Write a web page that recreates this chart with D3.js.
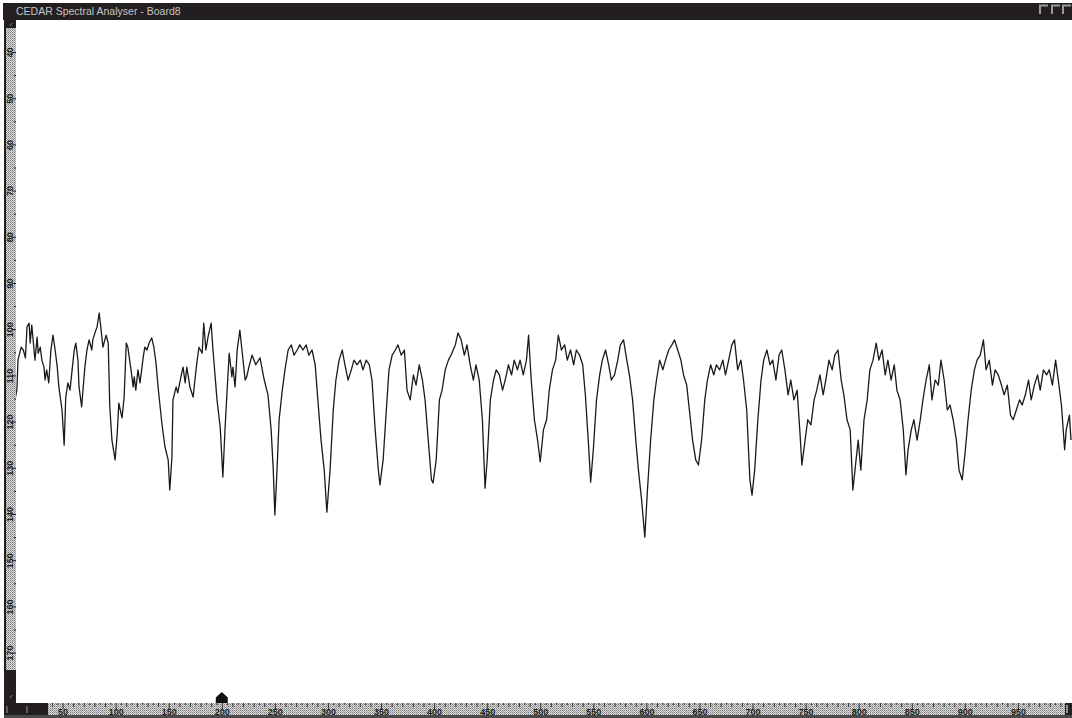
<!DOCTYPE html>
<html lang="en">
<head>
<meta charset="UTF-8">
<title>CEDAR Spectral Analyser - Board8</title>
<script src="https://d3js.org/d3.v7.min.js"></script>
<style>
  body { margin: 0; padding: 0; background: #fff; }
  svg { display: block; }
  text { font-family: "Liberation Sans", Arial, sans-serif; }
</style>
</head>
<body>
<svg id="chart"></svg>
<script>
// spectrum trace: frequency bin and level (inverted scale)
const freq = [5, 7, 8, 11, 13, 15, 16.5, 18.5, 19.5, 21, 22, 24, 26, 27, 29, 30.5, 32.5, 33.5, 35, 37,
  39, 41, 43, 45, 46.5, 49.5, 51.5, 53, 55, 57, 59, 61, 62.5, 64.5, 65.5, 68, 69, 71, 73, 75,
  77.5, 78.5, 80.5, 82.5, 84.5, 86, 88, 91, 93, 94.5, 96.5, 99.5, 101.5, 103, 106, 108, 110, 111.5, 114.5, 116.5,
  117.5, 119, 121, 123, 126, 127.5, 129.5, 131.5, 134, 136, 138, 140, 143.5, 146.5, 149.5, 151, 153, 154, 157, 158.5,
  161.5, 163.5, 165.5, 167, 170, 173, 175, 176.5, 178.5, 181.5, 183, 185, 187, 190, 191.5, 195.5, 198.5, 201, 203, 205,
  207, 209.5, 210.5, 212.5, 214.5, 217, 219, 222, 223.5, 225.5, 228.5, 232, 236, 240, 243.5, 246.5, 248.5, 250, 252, 254,
  257, 259.5, 262.5, 265.5, 268, 271, 273.5, 276.5, 279.5, 282, 285, 288, 290.5, 293.5, 296.5, 299, 302, 305, 307.5, 310.5,
  313.5, 316, 319, 322, 324.5, 327.5, 330.5, 333, 336, 339, 341.5, 344.5, 347.5, 349, 352, 355, 357.5, 360.5, 363.5, 366,
  369, 372, 374.5, 377.5, 380.5, 383, 386, 389, 391.5, 394.5, 397.5, 399, 402, 405, 407.5, 410.5, 413.5, 416, 420, 422.5,
  425.5, 428.5, 431, 434, 437, 439.5, 442.5, 445.5, 448, 450, 453, 456, 458.5, 461.5, 464.5, 467, 470, 473, 475.5, 478.5,
  481, 484, 487, 489, 491.5, 494.5, 497.5, 500, 503, 506, 508.5, 511.5, 514.5, 517, 520, 523, 525.5, 528.5, 531.5, 534,
  537, 540, 542.5, 545.5, 547.5, 550, 553, 556, 558.5, 561.5, 564.5, 567, 570, 573, 575.5, 578.5, 581.5, 584, 587, 590,
  592.5, 595.5, 598.5, 601, 604, 607, 609.5, 612.5, 615.5, 618, 621, 624, 626.5, 629.5, 632.5, 635, 638, 640.5, 643.5, 646.5,
  649, 652, 655, 657.5, 660.5, 663.5, 666, 669, 672, 674.5, 677.5, 680.5, 683, 686, 689, 691.5, 694.5, 697.5, 699.5, 702,
  705, 708, 710.5, 713.5, 716.5, 719, 722, 725, 727.5, 730.5, 733.5, 736, 739, 742, 744.5, 746.5, 749.5, 752, 755, 758,
  760.5, 763.5, 766.5, 769, 772, 775, 777.5, 780.5, 783.5, 786, 789, 792, 794.5, 796.5, 799.5, 802, 805, 808, 810.5, 813.5,
  816.5, 819, 822, 825, 827.5, 830.5, 833.5, 836, 839, 842, 844.5, 846.5, 849.5, 852, 855, 858, 860.5, 863.5, 866.5, 869,
  872, 875, 877.5, 880.5, 883.5, 886, 889, 892, 894.5, 897.5, 900.5, 903, 906, 909, 911.5, 914.5, 917.5, 920, 923, 926,
  928.5, 931.5, 934.5, 937, 940, 943, 945.5, 948.5, 951.5, 954, 957, 960, 962.5, 965.5, 968.5, 971, 974, 977, 979.5, 982.5,
  985.5, 988, 991, 994, 995.5, 998.5, 1000];

const level = [115.5, 113, 106.7, 103.9, 104.5, 106.2, 99.5, 98.7, 103, 99.1, 101.7, 106.7, 101.7, 105.2, 103.9, 106.7, 108.2, 111, 108.8, 111.6,
  104.5, 101.3, 104.5, 108.2, 112.5, 117.5, 125.1, 114.7, 111.6, 113.2, 108.8, 104.5, 103, 106.7, 112.5, 116.8, 113.8, 108.2, 104.5, 102.3,
  104.5, 102.3, 100.8, 99.5, 96.5, 99.5, 103.9, 101.3, 103, 116.8, 124, 128.3, 122.5, 116, 119.2, 114.7, 103, 103.9, 108.8, 112.5,
  110.3, 113.2, 108.8, 111.6, 106, 103.9, 104.5, 103, 101.9, 103.9, 107.3, 112.5, 120.3, 125.5, 128.3, 134.8, 127.7, 115.3, 112.5, 113.8,
  110.3, 108.2, 111.6, 108.2, 112.5, 114.7, 110.3, 107.3, 103.9, 105.2, 98.7, 104.5, 101.7, 98.7, 103.9, 115.3, 121.2, 132, 121.8, 113.2,
  105.2, 110.3, 108.2, 112.5, 104.5, 100.2, 104.5, 111, 110.3, 108.2, 105.6, 107.7, 106.2, 111, 114.2, 121.8, 130.5, 140.2, 130.5, 119.6,
  113.2, 108.8, 104.5, 103.4, 105.6, 104.5, 103.4, 104.5, 103.4, 105.6, 104.5, 107.7, 115.3, 124, 130.5, 139.6, 130.5, 117.5, 111, 106.7,
  104.5, 107.7, 111, 108.8, 106.7, 107.7, 106.7, 108.8, 106.7, 107.7, 111, 121.8, 130.5, 133.7, 128.3, 117.5, 108.8, 105.6, 104.5, 103.4,
  105.6, 104.5, 113.2, 115.3, 109.9, 112.1, 107.7, 111, 115.3, 124, 132.6, 133.3, 128.3, 115.3, 113.2, 108.8, 106.7, 105.6, 103.4, 100.8,
  102.3, 105.6, 103.4, 107.7, 111, 107.7, 111, 119.6, 134.4, 128.3, 115.3, 111, 108.8, 109.9, 113.2, 111, 107.7, 109.9, 106.7, 108.8,
  106.7, 109.9, 106.7, 101.3, 111, 119.6, 124, 128.7, 121.8, 119.6, 113.2, 108.8, 106.7, 101.3, 104.5, 103.4, 106.7, 104.5, 107.7, 104.5,
  105.6, 107.7, 114.2, 125.1, 133.1, 126.1, 115.3, 109.9, 106.7, 104.5, 107.7, 111, 109.9, 106.7, 103.4, 102.3, 106.7, 109.9, 115.3, 124,
  130.5, 137, 145, 134.8, 124, 115.3, 111, 106.7, 108.8, 106.7, 104.5, 103.4, 102.3, 104.5, 106.7, 109.9, 112.1, 117.5, 124, 128.3,
  129.4, 124, 115.3, 111, 107.7, 109.9, 107.7, 108.8, 106.7, 109.9, 106.7, 103.4, 102.3, 108.8, 106.7, 111, 117.5, 132.6, 135.9, 130.5,
  119.6, 111, 106.7, 104.5, 107.7, 106.7, 111, 105.6, 104.5, 108.8, 114.2, 111, 115.3, 113.2, 121.8, 129.4, 124, 119.6, 120.7, 115.3,
  113.2, 109.9, 114.2, 111, 106.7, 108.8, 105.6, 104.5, 111, 114.2, 119.6, 121.8, 134.8, 130.5, 124, 130.5, 119.6, 115.3, 108.8, 106.7,
  103, 106.7, 104.5, 109.9, 106.7, 111, 107.7, 113.2, 115.3, 121.8, 131.5, 126.1, 121.8, 119.6, 124, 119.6, 115.3, 111, 107.7, 115.3,
  111, 112.1, 106.7, 111, 117.5, 116.4, 119.6, 124, 130.5, 132.6, 126.1, 119.6, 113.2, 108.8, 106.7, 105.6, 102.3, 108.8, 106.7, 112.1,
  108.8, 109.9, 112.1, 114.2, 112.1, 118.6, 119.6, 117.5, 115.3, 116.4, 114.2, 111, 115.3, 112.1, 109.9, 113.2, 108.8, 109.9, 108.8, 112.1,
  106.7, 111, 116.4, 126.1, 121.8, 118.6, 124];

const xTickLabels = [50, 100, 150, 200, 250, 300, 350, 400, 450, 500, 550, 600, 650, 700, 750, 800, 850, 900, 950];
const yTickLabels = [40, 50, 60, 70, 80, 90, 100, 110, 120, 130, 140, 150, 160, 170];
const markerFreq = [200];
const title = "CEDAR Spectral Analyser - Board8";

const W = 1072, H = 718;
const plot = { left: 16, top: 20, right: 1072, bottom: 703 };

const svg = d3.select("#chart").attr("width", W).attr("height", H);

// dither pattern used on the ruler strips
const defs = svg.append("defs");
const pat = defs.append("pattern")
  .attr("id", "dither").attr("width", 2).attr("height", 2)
  .attr("patternUnits", "userSpaceOnUse");
pat.append("rect").attr("width", 2).attr("height", 2).attr("fill", "#dcdcdc");
pat.append("rect").attr("width", 1).attr("height", 1).attr("fill", "#7a7a7a");
pat.append("rect").attr("x", 1).attr("y", 1).attr("width", 1).attr("height", 1).attr("fill", "#a2a2a2");

defs.append("clipPath").attr("id", "plotclip")
  .append("rect")
  .attr("x", plot.left).attr("y", plot.top)
  .attr("width", plot.right - plot.left).attr("height", plot.bottom - plot.top);

const x = d3.scaleLinear().domain([5, 1000]).range([14.8, 1071]);
const y = d3.scaleLinear().domain([40, 170]).range([52, 652.6]);

// title bar
svg.append("rect").attr("x", 3).attr("y", 3).attr("width", W - 3).attr("height", 17).attr("fill", "#231f20");
svg.append("text").attr("x", 16).attr("y", 15).attr("font-size", 10.5).attr("fill", "#c4c4c4").text(title);
[1040, 1052, 1063].forEach(bx => {
  svg.append("path").attr("d", `M${bx},14V5.5H${bx + 8}`)
    .attr("fill", "none").attr("stroke", "#9a9a9a").attr("stroke-width", 2);
});

// left ruler
svg.append("rect").attr("x", 4).attr("y", 20).attr("width", 12).attr("height", 685).attr("fill", "#231f20");
svg.append("rect").attr("x", 6).attr("y", 28).attr("width", 10).attr("height", 642).attr("fill", "url(#dither)");
svg.append("path").attr("d", "M10,26l2,-3").attr("stroke", "#888").attr("stroke-width", 1);
svg.append("path").attr("d", "M10,698l2,-3").attr("stroke", "#888").attr("stroke-width", 1);

// bottom ruler
svg.append("rect").attr("x", 4).attr("y", 703).attr("width", W - 4).attr("height", 12).attr("fill", "#231f20");
svg.append("rect").attr("x", 48).attr("y", 703).attr("width", 1017).attr("height", 12).attr("fill", "url(#dither)");
svg.append("rect").attr("x", 4).attr("y", 715).attr("width", W - 4).attr("height", 3).attr("fill", "#4a4a4a");
[7, 27].forEach(tx => svg.append("line").attr("x1", tx).attr("x2", tx).attr("y1", 706).attr("y2", 713)
  .attr("stroke", "#9a9a9a").attr("stroke-width", 1));
svg.append("line").attr("x1", 1067).attr("x2", 1067).attr("y1", 705).attr("y2", 713)
  .attr("stroke", "#bbb").attr("stroke-width", 1.5);

// y axis ticks and labels
const yMinor = svg.append("g").attr("transform", `translate(${plot.left},0)`)
  .call(d3.axisLeft(y).tickValues(d3.range(45, 171, 10)).tickSize(2).tickFormat(""));
const yMajor = svg.append("g").attr("transform", `translate(${plot.left},0)`)
  .call(d3.axisLeft(y).tickValues(yTickLabels).tickSize(4).tickPadding(0));
[yMinor, yMajor].forEach(g => {
  g.select(".domain").remove();
  g.selectAll("line").attr("stroke", "#222");
});
yMajor.selectAll("text")
  .attr("transform", "rotate(-90)")
  .attr("x", 0).attr("y", -3).attr("dy", 0)
  .style("text-anchor", "middle")
  .attr("font-size", 9).attr("font-weight", "bold").attr("fill", "#1a1a1a");

// x axis ticks and labels
const xBase = plot.bottom;
const xFine = svg.append("g").attr("transform", `translate(0,${xBase})`)
  .call(d3.axisBottom(x).tickValues(d3.range(40, 1000, 5).filter(v => v % 10 !== 0)).tickSize(2).tickFormat(""));
const xMid = svg.append("g").attr("transform", `translate(0,${xBase})`)
  .call(d3.axisBottom(x).tickValues(d3.range(40, 1000, 10).filter(v => v % 50 !== 0)).tickSize(4).tickFormat(""));
const xMajor = svg.append("g").attr("transform", `translate(0,${xBase})`)
  .call(d3.axisBottom(x).tickValues(xTickLabels).tickSize(6).tickPadding(0));
[xFine, xMid, xMajor].forEach(g => {
  g.select(".domain").remove();
  g.selectAll("line").attr("stroke", "#333");
});
xMajor.selectAll("text")
  .attr("y", 11.5).attr("dy", 0)
  .attr("font-size", 9).attr("font-weight", "bold").attr("fill", "#1a1a1a");

// marker on bottom ruler
svg.selectAll(".marker").data(markerFreq).enter().append("path")
  .attr("class", "marker")
  .attr("d", d => {
    const cx = x(d);
    return `M${cx},692L${cx + 6},697.5L${cx + 6},703L${cx - 6},703L${cx - 6},697.5Z`;
  })
  .attr("fill", "#111");

// trace
const line = d3.line().x(d => x(d[0])).y(d => y(d[1]));
svg.append("path")
  .datum(freq.map((f, i) => [f, level[i]]))
  .attr("clip-path", "url(#plotclip)")
  .attr("d", line)
  .attr("fill", "none")
  .attr("stroke", "#1a1a1a")
  .attr("stroke-width", 1.3)
  .attr("stroke-linejoin", "round");
</script>
</body>
</html>
